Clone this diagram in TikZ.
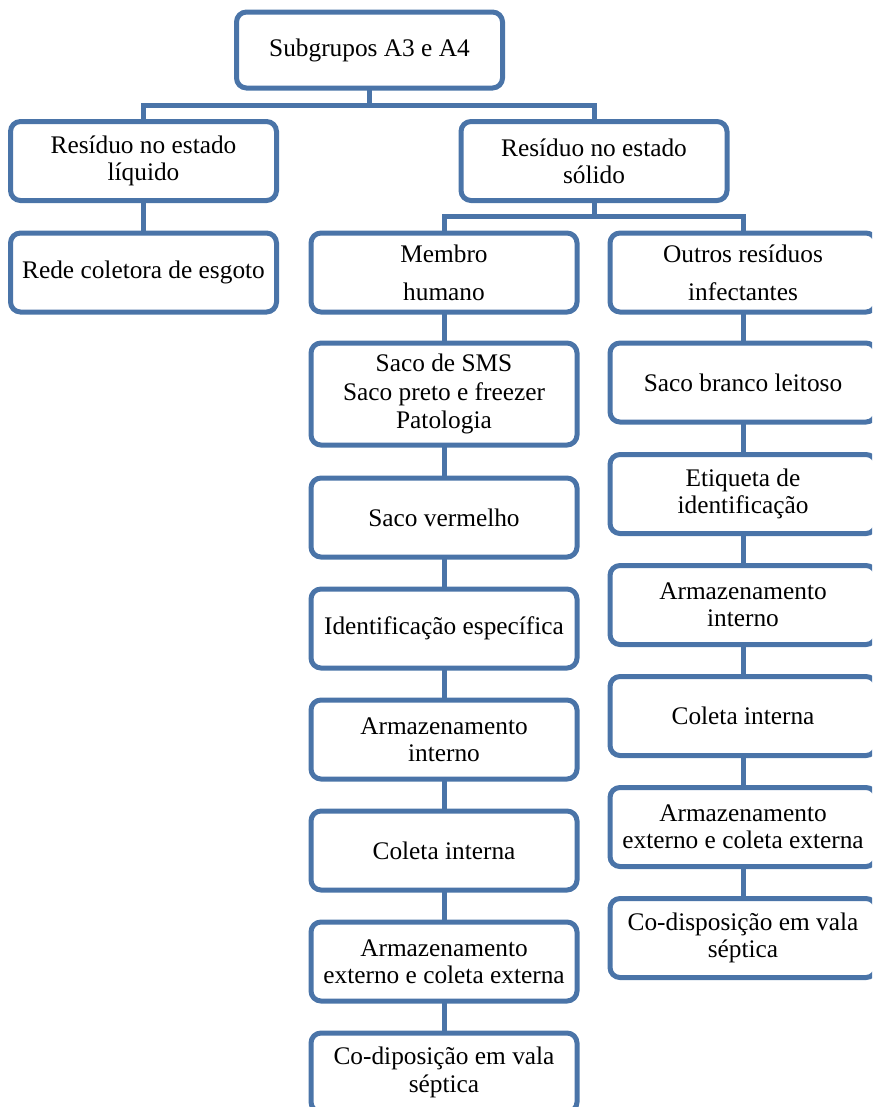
\documentclass[tikz,border=0pt]{standalone}
\usepackage{fontspec}
\setmainfont{Liberation Serif}
\definecolor{boxblue}{HTML}{4A74A8}
\begin{document}
\begin{tikzpicture}[x=0.75pt,y=-0.75pt,
  box/.style={draw=boxblue, line width=3.75pt, rounded corners=7.5pt, fill=white,
    minimum width=199.5pt, minimum height=59.25pt, outer sep=0pt, inner sep=2pt,
    align=center, font=\fontsize{19}{20.5}\selectfont},
  wide/.style={font=\fontsize{19}{28.5}\selectfont},
  link/.style={draw=boxblue, line width=3.75pt}]
\useasboundingbox (0,0) rectangle (872,1107);
\clip (0,0) rectangle (872,1107);

% top level
\node[box, minimum height=57pt] (top) at (369.5,50) {Subgrupos A3 e A4};

% second level
\node[box] (liq) at (143.5,161) {Resíduo no estado\\líquido};
\node[box] (sol) at (594,161) {Resíduo no estado\\sólido};
\node[box] (rede) at (143.5,272.5) {Rede coletora de esgoto};

% third level
\node[box, wide] (membro) at (444,272.5) {Membro\\humano};
\node[box, wide] (outros) at (743,272.5) {Outros resíduos\\infectantes};

% left chain
\node[box, minimum height=76.5pt, font=\fontsize{19}{21.4}\selectfont] (sms) at (444,394) {Saco de SMS\\Saco preto e freezer\\Patologia};
\node[box] (verm) at (444,517.5) {Saco vermelho};
\node[box] (ident) at (444,628.5) {Identificação específica};
\node[box] (armiL) at (444,739.5) {Armazenamento\\interno};
\node[box] (colL) at (444,850.5) {Coleta interna};
\node[box] (armeL) at (444,961.5) {Armazenamento\\externo e coleta externa};
\node[box] (codL) at (444,1072.5) {Co-diposição em vala\\séptica};

% right chain
\node[box] (branco) at (743,382.5) {Saco branco leitoso};
\node[box] (etiq) at (743,494) {Etiqueta de\\identificação};
\node[box] (armiR) at (743,605) {Armazenamento\\interno};
\node[box] (colR) at (743,716) {Coleta interna};
\node[box] (armeR) at (743,827) {Armazenamento\\externo e coleta externa};
\node[box] (codR) at (743,938) {Co-disposição em vala\\séptica};

% bus levels
\coordinate (busA) at (0,105);
\coordinate (busB) at (0,216);

\begin{scope}[on background layer/.try]
\end{scope}

% connectors
\path[link] (top.south) -- (top.south |- busA);
\path[link] (liq.north) -- (liq.north |- busA) -- (sol.north |- busA) -- (sol.north);
\path[link] (liq.south) -- (rede.north);
\path[link] (sol.south) -- (sol.south |- busB);
\path[link] (membro.north) -- (membro.north |- busB) -- (outros.north |- busB) -- (outros.north);
\path[link] (membro.south) -- (sms.north);
\path[link] (sms.south) -- (verm.north);
\path[link] (verm.south) -- (ident.north);
\path[link] (ident.south) -- (armiL.north);
\path[link] (armiL.south) -- (colL.north);
\path[link] (colL.south) -- (armeL.north);
\path[link] (armeL.south) -- (codL.north);
\path[link] (outros.south) -- (branco.north);
\path[link] (branco.south) -- (etiq.north);
\path[link] (etiq.south) -- (armiR.north);
\path[link] (armiR.south) -- (colR.north);
\path[link] (colR.south) -- (armeR.north);
\path[link] (armeR.south) -- (codR.north);
\end{tikzpicture}
\end{document}
